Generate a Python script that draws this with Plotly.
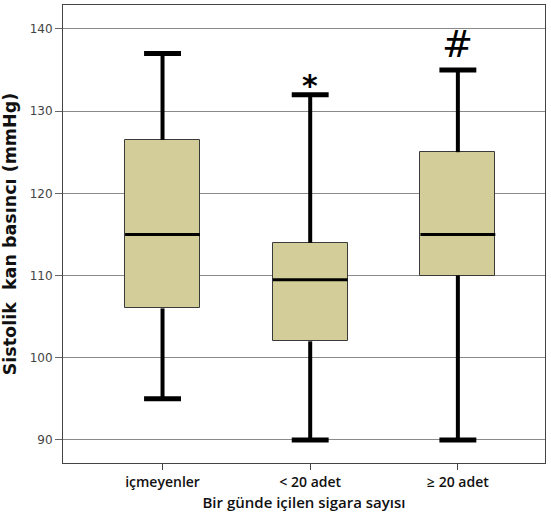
import plotly.graph_objects as go

categories = ["içmeyenler", "< 20 adet", "≥ 20 adet"]
lower = [95, 90, 90]
q1 = [106, 102, 110]
median = [115, 109.5, 115]
q3 = [126.5, 114, 125]
upper = [137, 132, 135]
marks = ["", "*", "#"]

BOX_W = 0.507
CAP_W = 0.25
xs = list(range(len(categories)))

fig = go.Figure()

# whiskers
wx, wy, cx, cy = [], [], [], []
for i in xs:
    wx += [i, i, None, i, i, None]
    wy += [q3[i], upper[i], None, lower[i], q1[i], None]
    cx += [i - CAP_W / 2, i + CAP_W / 2, None, i - CAP_W / 2, i + CAP_W / 2, None]
    cy += [upper[i], upper[i], None, lower[i], lower[i], None]
fig.add_trace(go.Scatter(x=wx, y=wy, mode="lines", line=dict(color="black", width=4),
                         hoverinfo="skip", showlegend=False))
fig.add_trace(go.Scatter(x=cx, y=cy, mode="lines", line=dict(color="black", width=5),
                         hoverinfo="skip", showlegend=False))

# boxes
fig.add_trace(go.Bar(x=xs, y=[q3[i] - q1[i] for i in xs], base=q1, width=BOX_W,
                     marker=dict(color="#D3CE99", line=dict(color="#3a3a3a", width=1)),
                     showlegend=False))

# medians
mx, my = [], []
for i in xs:
    mx += [i - BOX_W / 2, i + BOX_W / 2, None]
    my += [median[i], median[i], None]
fig.add_trace(go.Scatter(x=mx, y=my, mode="lines", line=dict(color="black", width=3),
                         hoverinfo="skip", showlegend=False))

for i in xs:
    if marks[i] == "*":
        fig.add_annotation(x=i, y=upper[i], text="<b>*</b>", showarrow=False,
                           yanchor="bottom", yshift=-10,
                           font=dict(size=30, color="black", family="DejaVu Sans"))
    elif marks[i] == "#":
        fig.add_annotation(x=i, y=upper[i], text="#", showarrow=False,
                           yanchor="bottom", yshift=2,
                           font=dict(size=37, color="black", family="DejaVu Sans"))

tickfont = dict(size=14, color="#111", family="Open Sans", weight=600)

fig.update_layout(
    width=551, height=523,
    margin=dict(l=63, r=6, t=5, b=60),
    paper_bgcolor="white", plot_bgcolor="white",
    font=dict(family="DejaVu Sans", color="#222"),
    bargap=0,
    xaxis=dict(range=[-0.674, 2.59], tickmode="array", tickvals=xs, ticktext=categories,
               showgrid=False, zeroline=False, showline=True, linecolor="#444", linewidth=1,
               mirror=True, ticks="outside", ticklen=6, tickcolor="#444",
               tickfont=tickfont,
               title=dict(text="Bir günde içilen sigara sayısı",
                          font=dict(size=15, color="#111", family="Open Sans", weight=600),
                          standoff=7)),
    yaxis=dict(range=[87.2, 142.9], tickvals=[90, 100, 110, 120, 130, 140],
               showgrid=True, gridcolor="#8a8a8a", gridwidth=1, zeroline=False,
               showline=True, linecolor="#444", linewidth=1, mirror=True,
               ticks="outside", ticklen=7, tickcolor="#666",
               tickfont=dict(size=12, color="#444"),
               title=dict(text="<b>Sistolik  kan basıncı (mmHg)</b>",
                          font=dict(size=17.5, color="#111"), standoff=8)),
)

fig.write_html("out.html")
